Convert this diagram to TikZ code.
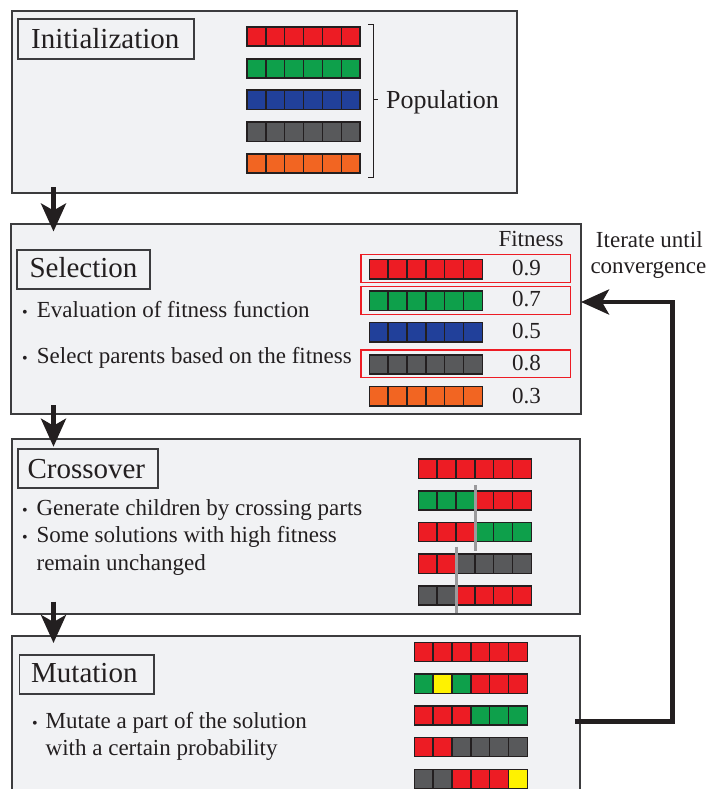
\documentclass[tikz,border=0pt]{standalone}
\usepackage{fontspec}
\setmainfont{Liberation Serif}
\usetikzlibrary{arrows.meta}
\definecolor{bgc}{HTML}{F1F2F4}
\definecolor{edge}{HTML}{3C3C3E}
\definecolor{ink}{HTML}{231F20}
\definecolor{gR}{HTML}{ED1C24}
\definecolor{gG}{HTML}{0EA04B}
\definecolor{gB}{HTML}{21409A}
\definecolor{gK}{HTML}{58595B}
\definecolor{gO}{HTML}{F26522}
\definecolor{gY}{HTML}{FFF200}
\definecolor{cutc}{HTML}{9A9A9C}
\newcommand{\genebar}[3]{\foreach \cc [count=\ii from 0] in {#3}{\draw[cell,fill=\cc] ({#1+\ii*18.85},{#2}) rectangle ++(18.85,19.2);}}
\newcommand{\bigdot}[1]{\makebox[#1][l]{\fontsize{16}{16}\selectfont •}}
\begin{document}
\begin{tikzpicture}[x=1pt,y=-1pt,
  stage/.style={draw=edge, line width=2pt, fill=bgc},
  titlebox/.style={draw=edge, line width=1.8pt, fill=bgc},
  cell/.style={draw=ink, line width=1.5pt},
  pick/.style={draw=gR, line width=1.2pt},
  cutline/.style={draw=cutc, line width=3pt},
  title/.style={anchor=base west, inner sep=0pt, font=\fontsize{29}{29}\selectfont, text=ink},
  txt/.style={anchor=base west, inner sep=0pt, font=\fontsize{23}{23}\selectfont, text=ink},
  num/.style={anchor=base, inner sep=0pt, font=\fontsize{23}{23}\selectfont, text=ink},
  flow/.style={draw=ink, line width=4.5pt, line join=miter, -{Stealth[length=28pt,width=25pt,inset=7pt]}}]
\useasboundingbox (0,0) rectangle (708,789);
\begin{scope}
\clip (0,0) rectangle (708,789);
% stage boxes
\draw[stage] (12.3,11) rectangle (517,192.7);
\draw[stage] (10.7,223.5) rectangle (581,414);
\draw[stage] (12.3,439) rectangle (580.3,614);
\draw[stage] (12.3,635.5) rectangle (580.3,800);
\end{scope}
% title boxes
\draw[titlebox] (18.3,19.3) rectangle (194,58.7);
\draw[titlebox] (17.3,250) rectangle (150,289);
\draw[titlebox] (18,449.3) rectangle (158,488.3);
\draw[titlebox] (19.5,655) rectangle (153.8,694);
\node[title] (tInit) at (31,48.3) {Initialization};
\node[title] (tSel) at (29.3,277.7) {Selection};
\node[title] (tCross) at (27.3,478.3) {Crossover};
\node[title] (tMut) at (31,682.7) {Mutation};
% initialization population
\genebar{247}{26.9}{gR,gR,gR,gR,gR,gR}
\genebar{247}{58.9}{gG,gG,gG,gG,gG,gG}
\genebar{247}{90.2}{gB,gB,gB,gB,gB,gB}
\genebar{247}{122.2}{gK,gK,gK,gK,gK,gK}
\genebar{247}{153.9}{gO,gO,gO,gO,gO,gO}
\draw[ink, line width=1pt] (368,24.7) -- (373,24.7) -- (373,177.3) -- (368,177.3);
\draw[ink, line width=1pt] (373,99.5) -- (378,99.5);
\node[anchor=base west, inner sep=0pt, font=\fontsize{26}{26}\selectfont, text=ink] (pop) at (386,108.3) {Population};
% selection
\node[txt] (s1) at (22,317.7) {\bigdot{14.7pt}Evaluation of fitness function};
\node[txt] (s2) at (22,363.3) {\bigdot{14.7pt}Select parents based on the fitness};
\node[txt] (fit) at (498.3,246.7) {Fitness};
\genebar{369.3}{259.6}{gR,gR,gR,gR,gR,gR}
\genebar{369.3}{291.1}{gG,gG,gG,gG,gG,gG}
\genebar{369.3}{322.7}{gB,gB,gB,gB,gB,gB}
\genebar{369.3}{354.9}{gK,gK,gK,gK,gK,gK}
\genebar{369.3}{386.7}{gO,gO,gO,gO,gO,gO}
\node[num] (n1) at (526.5,275) {0.9};
\node[num] (n2) at (526.5,306.7) {0.7};
\node[num] (n3) at (526.5,338.3) {0.5};
\node[num] (n4) at (526.5,370.7) {0.8};
\node[num] (n5) at (526.5,403.3) {0.3};
\draw[pick] (361,254.3) rectangle (570.7,282.3);
\draw[pick] (361,286.7) rectangle (570.7,314.3);
\draw[pick] (361,350) rectangle (570.7,377.7);
\node[num] (it1) at (649.3,247.7) {Iterate until};
\node[num] (it2) at (648.4,273.3) {convergence};
% crossover
\node[txt] (c1) at (22,515) {\bigdot{14.4pt}Generate children by crossing parts};
\node[txt] (c2) at (22,542.7) {\bigdot{14.4pt}Some solutions with high fitness};
\node[txt] (c3) at (36.4,570) {remain unchanged};
\genebar{418.3}{459.2}{gR,gR,gR,gR,gR,gR}
\genebar{418.3}{490.9}{gG,gG,gG,gR,gR,gR}
\genebar{418.3}{522.5}{gR,gR,gR,gG,gG,gG}
\genebar{418.3}{554.2}{gR,gR,gK,gK,gK,gK}
\genebar{418.3}{585.9}{gK,gK,gR,gR,gR,gR}
\draw[cutline] (475.3,485) -- (475.3,551);
\draw[cutline] (456.6,546.7) -- (456.6,613);
% mutation
\node[txt] (m1) at (32,728.3) {\bigdot{13.5pt}Mutate a part of the solution};
\node[txt] (m2) at (45.5,755) {with a certain probability};
\genebar{414.3}{642.5}{gR,gR,gR,gR,gR,gR}
\genebar{414.3}{674.2}{gG,gY,gG,gR,gR,gR}
\genebar{414.3}{705.9}{gR,gR,gR,gG,gG,gG}
\genebar{414.3}{737.5}{gR,gR,gK,gK,gK,gK}
\genebar{414.3}{769.4}{gK,gK,gR,gR,gR,gY}
% flow arrows
\coordinate (d1s) at (53.5,187);
\coordinate (d1e) at (53.5,231.5);
\coordinate (d2s) at (53.5,405);
\coordinate (d2e) at (53.5,446.7);
\coordinate (d3s) at (53.5,601.7);
\coordinate (d3e) at (53.5,643);
\draw[flow] (d1s) -- (d1e);
\draw[flow] (d2s) -- (d2e);
\draw[flow] (d3s) -- (d3e);
\coordinate (fbS) at (575,721.5);
\coordinate (fbC) at (672.7,302);
\coordinate (fbE) at (581,302);
\draw[flow] (fbS) -| (fbC) -- (fbE);
\end{tikzpicture}
\end{document}
